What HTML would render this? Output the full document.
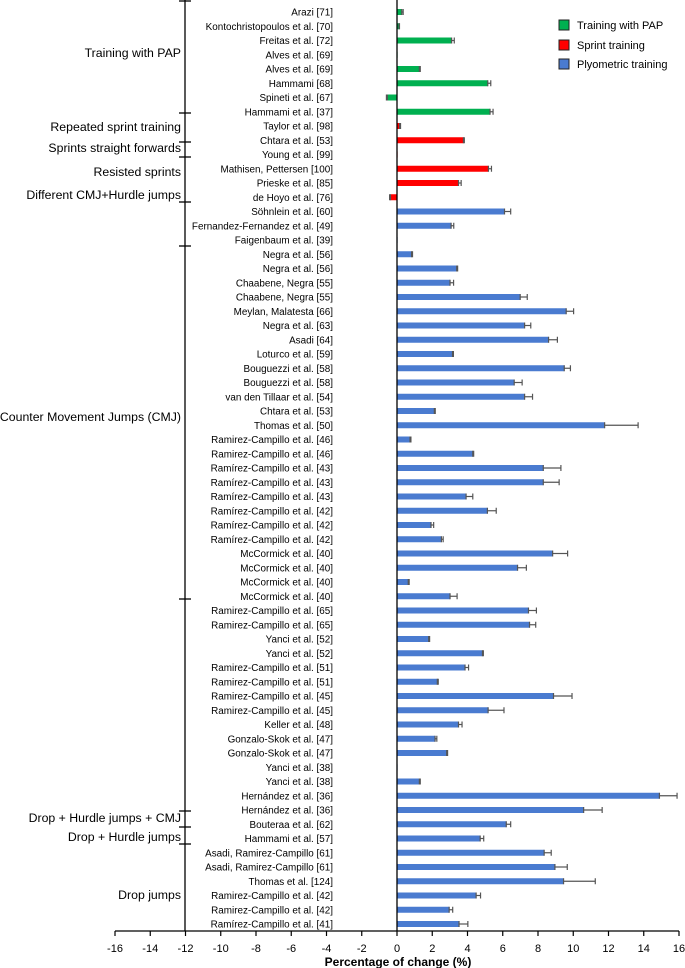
<!DOCTYPE html>
<html><head><meta charset="utf-8"><style>
html,body{margin:0;padding:0;background:#fff;}
svg{display:block;font-family:"Liberation Sans",sans-serif;}
</style></head><body>
<svg id="chart" width="685" height="968" viewBox="0 0 685 968" xmlns="http://www.w3.org/2000/svg">
<g id="groups"></g>
<g id="bars"></g>
<g id="labels"></g>
<g id="xaxis"></g>
<g font-size="11">
 <rect x="559" y="20" width="10" height="10" fill="#00b050" stroke="#222" stroke-width="1"/>
 <text x="577" y="29">Training with PAP</text>
 <rect x="559" y="40" width="10" height="10" fill="#ff0000" stroke="#222" stroke-width="1"/>
 <text x="577" y="49">Sprint training</text>
 <rect x="559" y="59" width="10" height="10" fill="#4a7bd0" stroke="#222" stroke-width="1"/>
 <text x="577" y="68">Plyometric training</text>
</g>
</svg>
<script>
const studies = ["Arazi [71]","Kontochristopoulos et al. [70]","Freitas et al. [72]","Alves et al. [69]","Alves et al. [69]","Hammami [68]","Spineti et al. [67]","Hammami et al. [37]","Taylor et al. [98]","Chtara et al. [53]","Young et al. [99]","Mathisen, Pettersen [100]","Prieske et al. [85]","de Hoyo et al. [76]","Söhnlein et al. [60]","Fernandez-Fernandez et al. [49]","Faigenbaum et al. [39]","Negra et al. [56]","Negra et al. [56]","Chaabene, Negra [55]","Chaabene, Negra [55]","Meylan, Malatesta [66]","Negra et al. [63]","Asadi [64]","Loturco et al. [59]","Bouguezzi et al. [58]","Bouguezzi et al. [58]","van den Tillaar et al. [54]","Chtara et al. [53]","Thomas et al. [50]","Ramirez-Campillo et al. [46]","Ramirez-Campillo et al. [46]","Ramírez-Campillo et al. [43]","Ramírez-Campillo et al. [43]","Ramírez-Campillo et al. [43]","Ramírez-Campillo et al. [42]","Ramírez-Campillo et al. [42]","Ramírez-Campillo et al. [42]","McCormick et al. [40]","McCormick et al. [40]","McCormick et al. [40]","McCormick et al. [40]","Ramirez-Campillo et al. [65]","Ramirez-Campillo et al. [65]","Yanci et al. [52]","Yanci et al. [52]","Ramirez-Campillo et al. [51]","Ramirez-Campillo et al. [51]","Ramirez-Campillo et al. [45]","Ramirez-Campillo et al. [45]","Keller et al. [48]","Gonzalo-Skok et al. [47]","Gonzalo-Skok et al. [47]","Yanci et al. [38]","Yanci et al. [38]","Hernández et al. [36]","Hernández et al. [36]","Bouteraa et al. [62]","Hammami et al. [57]","Asadi, Ramirez-Campillo [61]","Asadi, Ramirez-Campillo [61]","Thomas et al. [124]","Ramirez-Campillo et al. [42]","Ramirez-Campillo et al. [42]","Ramírez-Campillo et al. [41]"];
const changes = [0.27,0.12,3.1,0,1.27,5.15,-0.55,5.28,0.15,3.77,0.02,5.19,3.49,-0.37,6.1,3.07,0,0.83,3.39,3.01,6.99,9.6,7.24,8.6,3.15,9.49,6.65,7.24,2.12,11.78,0.74,4.3,8.3,8.3,3.92,5.13,1.93,2.52,8.83,6.84,0.64,3.01,7.46,7.52,1.8,4.85,3.86,2.29,8.88,5.17,3.49,2.16,2.82,0,1.27,14.89,10.59,6.2,4.72,8.35,8.96,9.45,4.49,2.96,3.52];
const errors = [0.08,0.02,0.15,0,0.05,0.17,0.05,0.17,0.05,0.05,0,0.17,0.15,0.05,0.35,0.15,0,0.05,0.05,0.2,0.4,0.42,0.35,0.5,0.05,0.35,0.45,0.45,0.05,1.9,0.05,0.05,1.0,0.9,0.38,0.5,0.15,0.1,0.85,0.5,0.05,0.4,0.45,0.35,0.05,0.05,0.2,0.05,1.05,0.9,0.2,0.1,0.05,0,0.05,1.0,1.05,0.25,0.2,0.4,0.7,1.8,0.25,0.2,0.5];
const types = ["pap","pap","pap","pap","pap","pap","pap","pap","sprint","sprint","sprint","sprint","sprint","sprint"].concat(Array(51).fill("plyo"));
const xTicks = [-16,-14,-12,-10,-8,-6,-4,-2,0,2,4,6,8,10,12,14,16];
const groupNames = ["Training with PAP","Repeated sprint training","Sprints straight forwards","Resisted sprints","Different CMJ+Hurdle jumps","Counter Movement Jumps (CMJ)","Drop + Hurdle jumps + CMJ","Drop + Hurdle jumps","Drop jumps"];
const colors = {pap:"#00b050", sprint:"#ff0000", plyo:"#4a7bd0"};
const NS="http://www.w3.org/2000/svg";
const x0=115, x1=679, vmin=-16, vmax=16;
function xs(v){return x0+(v-vmin)/(vmax-vmin)*(x1-x0);}
function ys(i){return 12+i*(924-12)/(studies.length-1);}
function mk(tag,attrs,parent){const e=document.createElementNS(NS,tag);for(const k in attrs)e.setAttribute(k,attrs[k]);parent.appendChild(e);return e;}
const gB=document.getElementById('bars'), gL=document.getElementById('labels'), gX=document.getElementById('xaxis'), gG=document.getElementById('groups');
studies.forEach((s,i)=>{
  const y=ys(i), v=changes[i], a=xs(0), b=xs(v);
  const r=mk('rect',{x:Math.min(a,b),y:y-3,width:Math.max(Math.abs(b-a),0.6),height:6,fill:colors[types[i]]},gB);
  
  
  if(errors[i]>0){
    const sgn=v<0?-1:1, e=xs(v+sgn*errors[i]);
    const eg=mk('g',{stroke:'#555','stroke-width':1.2},gB);
    
    
    mk('line',{x1:b,x2:e,y1:y,y2:y},eg);
    mk('line',{x1:b,x2:b,y1:y-3,y2:y+3},eg);
    mk('line',{x1:e,x2:e,y1:y-3,y2:y+3},eg);
  }
  const t=mk('text',{x:333,y:y+3.5,'text-anchor':'end','font-size':'9.9'},gL);
  t.textContent=s;
  
  
});
const zl=mk('line',{x1:xs(0),x2:xs(0),y1:0,y2:931,stroke:'#000','stroke-width':1.3},gB);


mk('line',{x1:x0,x2:x1,y1:931,y2:931,stroke:'#000','stroke-width':1.2},gX);
xTicks.forEach(v=>{
  mk('line',{x1:xs(v),x2:xs(v),y1:931,y2:936,stroke:'#000','stroke-width':1.2},gX);
  const t=mk('text',{x:xs(v),y:952,'text-anchor':'middle','font-size':'11'},gX);
  t.textContent=v;
  
  
});
const xt=mk('text',{x:398,y:966,'text-anchor':'middle','font-size':'12','font-weight':'bold'},gX);
xt.textContent='Percentage of change (%)';


mk('line',{x1:185,x2:185,y1:0,y2:931,stroke:'#000','stroke-width':1.3},gG);
[1,113,142,157,202,246,599,811,827,844].forEach(y=>mk('line',{x1:179,x2:191,y1:y,y2:y,stroke:'#000','stroke-width':1.3},gG));
const gy=[57,131,152,176,199,421,822,841,899];
groupNames.forEach((n,i)=>{
  const t=mk('text',{x:181,y:gy[i],'text-anchor':'end','font-size':'12.3'},gG);
  t.textContent=n;
  
  
});
</script>
</body></html>
